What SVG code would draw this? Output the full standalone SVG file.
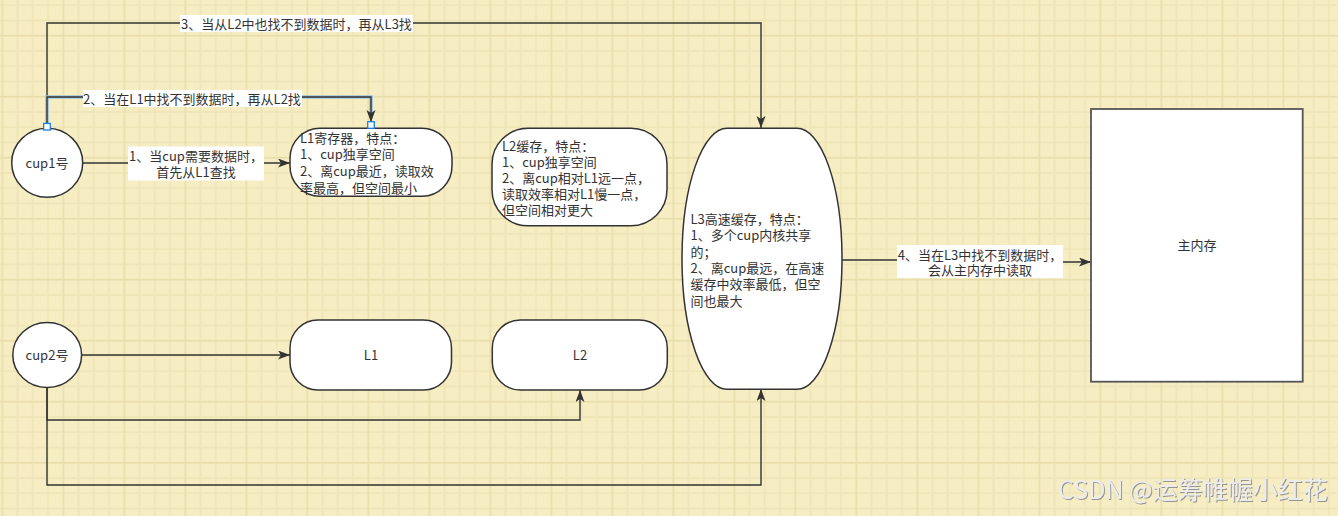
<svg xmlns="http://www.w3.org/2000/svg" width="1338" height="516" viewBox="0 0 1338 516">
<style>
text{font-family:"Noto Sans CJK SC","Noto Sans",sans-serif;font-size:13px;fill:#333}
.c{text-anchor:middle}
.node{fill:#fff;stroke:#333;stroke-width:1.5}
.edge{fill:none;stroke:#333;stroke-width:1.4}
.lbl{fill:#fff}
.h{fill:#fff;stroke:#1a7fe0;stroke-width:1.3}
</style>
<defs>
<pattern id="grid" x="1.5" y="34.9" width="61" height="61" patternUnits="userSpaceOnUse">
<rect x="15.25" y="0" width="1.6" height="61" fill="#EEE4B6"/>
<rect x="30.5" y="0" width="1.6" height="61" fill="#EEE4B6"/>
<rect x="45.75" y="0" width="1.6" height="61" fill="#EEE4B6"/>
<rect x="0" y="15.25" width="61" height="1.6" fill="#EEE4B6"/>
<rect x="0" y="30.5" width="61" height="1.6" fill="#EEE4B6"/>
<rect x="0" y="45.75" width="61" height="1.6" fill="#EEE4B6"/>
<rect x="0" y="0" width="1.6" height="61" fill="#E8DDAA"/>
<rect x="0" y="0" width="61" height="1.6" fill="#E8DDAA"/>
</pattern>
<marker id="arr" markerUnits="userSpaceOnUse" markerWidth="13" markerHeight="10" refX="12" refY="4.5" orient="auto">
<path d="M0,0 L12,4.5 L0,9 L3,4.5 Z" fill="#333"/>
</marker>
<filter id="emboss" x="-5%" y="-30%" width="110%" height="160%">
<feDropShadow dx="1" dy="1" stdDeviation="0.6" flood-color="#8a8a8a" flood-opacity="0.9"/>
</filter>
</defs>
<rect x="0" y="0" width="1338" height="516" fill="#F6EDC3"/>
<rect x="0" y="0" width="1338" height="516" fill="url(#grid)"/>

<g id="connectors">
<path class="edge" d="M83,163 H290" marker-end="url(#arr)"/>
<path class="edge" d="M47,127 V23 H761 V128" marker-end="url(#arr)"/>
<path d="M47,127 V97 H371 V119" fill="none" stroke="#9cc3dd" stroke-width="3.6"/>
<path class="edge" d="M47,127 V97 H371 V122" stroke="#2b3f4d" stroke-width="1.7" marker-end="url(#arr)"/>
<path class="edge" d="M842,260 H970 V262 H1091" marker-end="url(#arr)"/>
<path class="edge" d="M82,355 H290" marker-end="url(#arr)"/>
<path class="edge" d="M47,388 V420 H580 V390" marker-end="url(#arr)"/>
<path class="edge" d="M47,388 V485 H761 V389" marker-end="url(#arr)"/>
<rect class="lbl" x="128" y="146.5" width="136" height="34"/>
<text class="c" x="196" y="160.5">1、当cup需要数据时，<tspan x="196" dy="16.5">首先从L1查找</tspan></text>
<rect class="lbl" x="83" y="90" width="219" height="17"/>
<text class="c" x="192" y="104">2、当在L1中找不到数据时，再从L2找</text>
<rect class="lbl" x="180" y="15" width="233" height="17"/>
<text class="c" x="296.5" y="29">3、当从L2中也找不到数据时，再从L3找</text>
<rect class="lbl" x="897" y="245" width="166" height="33"/>
<text class="c" x="980" y="259.5">4、当在L3中找不到数据时，<tspan x="980" dy="15.5">会从主内存中读取</tspan></text>
</g>

<g id="cup1">
<ellipse class="node" cx="47.2" cy="162.8" rx="35.5" ry="34.5"/>
<text class="c" x="47" y="167.5">cup1号</text>
</g>
<g id="L1-reg">
<rect class="node" x="290" y="128.3" width="162" height="68" rx="30" ry="30"/>
<text x="300" y="142.8">L1寄存器，特点：<tspan x="300" dy="16.6">1、cup独享空间</tspan><tspan x="300" dy="16.6">2、离cup最近，读取效</tspan><tspan x="300" dy="16.6">率最高，但空间最小</tspan></text>
</g>
<g id="L2-cache">
<rect class="node" x="492" y="128.3" width="175" height="97.5" rx="36" ry="36"/>
<text x="502" y="150.5">L2缓存，特点：<tspan x="502" dy="16">1、cup独享空间</tspan><tspan x="502" dy="16">2、离cup相对L1远一点，</tspan><tspan x="502" dy="16">读取效率相对L1慢一点，</tspan><tspan x="502" dy="16">但空间相对更大</tspan></text>
</g>
<g id="L3-cache">
<rect class="node" x="682" y="128.3" width="160" height="261" rx="45" ry="130"/>
<text x="690.5" y="224">L3高速缓存，特点：<tspan x="690.5" dy="16.3">1、多个cup内核共享</tspan><tspan x="690.5" dy="16.3">的；</tspan><tspan x="690.5" dy="16.3">2、离cup最远，在高速</tspan><tspan x="690.5" dy="16.3">缓存中效率最低，但空</tspan><tspan x="690.5" dy="16.3">间也最大</tspan></text>
</g>
<g id="main-memory">
<rect x="1091" y="109" width="211.7" height="272.7" fill="#fff" stroke="#555" stroke-width="1.8"/>
<text class="c" x="1197" y="250">主内存</text>
</g>
<g id="cup2">
<ellipse class="node" cx="47.2" cy="355" rx="34.4" ry="32.5"/>
<text class="c" x="47" y="359.5">cup2号</text>
</g>
<g id="L1">
<rect class="node" x="290" y="320" width="161.5" height="70" rx="28" ry="28"/>
<text class="c" x="371" y="359.5">L1</text>
</g>
<g id="L2">
<rect class="node" x="492.3" y="320" width="175" height="70" rx="28" ry="28"/>
<text class="c" x="580" y="359.5">L2</text>
</g>
<g id="handles">
<rect class="h" x="43.7" y="123.4" width="6.6" height="6.6"/>
<rect class="h" x="367.7" y="121.7" width="6.6" height="6.6"/>
</g>
<g id="watermark">
<text x="1058" y="499" filter="url(#emboss)" style="font-size:25px;fill:#ececec">CSDN @运筹帷幄小红花</text>
</g>
</svg>
